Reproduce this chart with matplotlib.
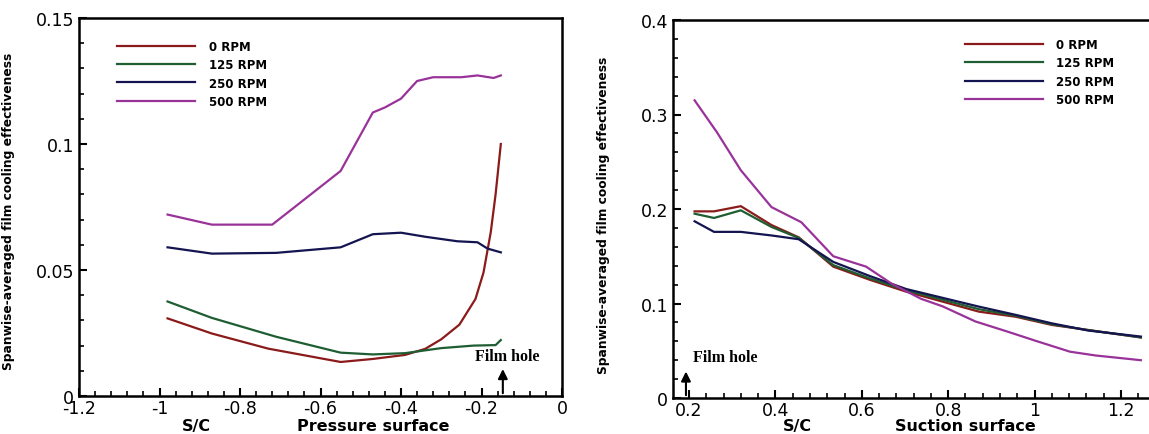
import numpy as np
import matplotlib
matplotlib.use('Agg')
import matplotlib.pyplot as plt
from matplotlib.ticker import MultipleLocator
import matplotlib.transforms as mtransforms

# pressure surface (left panel)
p_x_0 = [-0.98, -0.87, -0.73, -0.55, -0.47, -0.39, -0.34, -0.30, -0.255, -0.215, -0.195, -0.177, -0.165, -0.152]
p_y_0 = [0.0308, 0.0248, 0.0188, 0.0135, 0.0147, 0.0163, 0.0187, 0.0225, 0.0283, 0.0385, 0.0490, 0.0650, 0.0800, 0.1000]
p_x_125 = [-0.98, -0.87, -0.71, -0.55, -0.47, -0.39, -0.30, -0.22, -0.165, -0.152]
p_y_125 = [0.0375, 0.0310, 0.0235, 0.0172, 0.0165, 0.0170, 0.0190, 0.0200, 0.0202, 0.0222]
p_x_250 = [-0.98, -0.87, -0.71, -0.55, -0.47, -0.40, -0.34, -0.26, -0.21, -0.185, -0.152]
p_y_250 = [0.0590, 0.0565, 0.0568, 0.0590, 0.0642, 0.0648, 0.0632, 0.0614, 0.0610, 0.0585, 0.0570]
p_x_500 = [-0.98, -0.87, -0.72, -0.66, -0.55, -0.47, -0.44, -0.40, -0.36, -0.32, -0.25, -0.21, -0.17, -0.152]
p_y_500 = [0.0720, 0.0680, 0.0680, 0.0755, 0.0893, 0.1125, 0.1145, 0.1180, 0.1250, 0.1265, 0.1265, 0.1272, 0.1262, 0.1272]

# suction surface (right panel)
s_x = [0.213, 0.258, 0.32, 0.391, 0.454, 0.534, 0.619, 0.703, 0.787, 0.871, 0.956, 1.04, 1.124, 1.246]
s_y_0 = [0.1975, 0.1975, 0.203, 0.183, 0.170, 0.139, 0.125, 0.1125, 0.102, 0.0914, 0.086, 0.0773, 0.072, 0.064]
s_y_125 = [0.195, 0.1905, 0.1986, 0.181, 0.1694, 0.1406, 0.1265, 0.114, 0.104, 0.094, 0.087, 0.078, 0.0718, 0.0642]
s_y_250 = [0.187, 0.1758, 0.1758, 0.172, 0.168, 0.144, 0.129, 0.1153, 0.106, 0.0967, 0.088, 0.079, 0.0714, 0.065]
s_x_500 = [0.213, 0.265, 0.32, 0.391, 0.46, 0.534, 0.61, 0.669, 0.737, 0.787, 0.863, 0.939, 1.006, 1.082, 1.141, 1.246]
s_y_500 = [0.315, 0.281, 0.241, 0.202, 0.186, 0.150, 0.139, 0.121, 0.105, 0.097, 0.081, 0.070, 0.060, 0.049, 0.045, 0.040]

labels = ['0 RPM', '125 RPM', '250 RPM', '500 RPM']
colors = ['#8b1a1a', '#1e5e32', '#141450', '#993399']

plt.rcParams['font.family'] = 'DejaVu Sans'

W, H = 1149, 435
fig = plt.figure(figsize=(W / 100, H / 100), dpi=100)

def px_axes(l, r, top, bot):
    return fig.add_axes([l / W, (H - bot) / H, (r - l) / W, (bot - top) / H])

ax1 = px_axes(79, 562, 19, 397)
ax2 = px_axes(673, 1160, 21, 399)

ylab = 'Spanwise-averaged film cooling effectiveness'
leg_kw = dict(loc='upper left', frameon=False, borderpad=0, borderaxespad=0,
              handlelength=6.6, handletextpad=1.15, labelspacing=0.45,
              prop={'size': 8.5, 'weight': 'bold'})

def style(ax, xmaj, xmin, ymaj, ymin):
    ax.xaxis.set_major_locator(MultipleLocator(xmaj))
    ax.xaxis.set_minor_locator(MultipleLocator(xmin))
    ax.yaxis.set_major_locator(MultipleLocator(ymaj))
    ax.yaxis.set_minor_locator(MultipleLocator(ymin))
    ax.tick_params(which='both', direction='in', top=False, right=False, width=1.5, labelsize=12.5)
    ax.tick_params(which='major', length=6, pad=3.5)
    ax.tick_params(axis='x', which='major', pad=2.5)
    ax.tick_params(which='minor', length=3.5, width=1.2)
    for s in ax.spines.values():
        s.set_linewidth(1.8)
    ax.xaxis.set_major_formatter(plt.FuncFormatter(lambda v, p: f'{v:g}'))
    ax.yaxis.set_major_formatter(plt.FuncFormatter(lambda v, p: f'{v:g}'))

# left panel
for x, y, c, l in zip([p_x_0, p_x_125, p_x_250, p_x_500], [p_y_0, p_y_125, p_y_250, p_y_500], colors, labels):
    ax1.plot(x, y, color=c, lw=1.6, label=l)
ax1.set_xlim(-1.2, 0)
ax1.set_ylim(0, 0.15)
style(ax1, 0.2, 0.04, 0.05, 0.01)
ax1.set_ylabel(ylab, fontsize=8.8, fontweight='bold')
ax1.yaxis.set_label_coords(-0.1325, 0.492)
ax1.legend(bbox_to_anchor=(0.0787, 0.942), **leg_kw)
tr1 = mtransforms.blended_transform_factory(ax1.transData, ax1.transAxes)
ax1.text(-0.907, -0.078, 'S/C', transform=tr1, ha='center', va='center', fontsize=11.5, fontweight='bold')
ax1.text(-0.47, -0.078, 'Pressure surface', transform=tr1, ha='center', va='center', fontsize=11.5, fontweight='bold')
ax1.annotate('', xy=(-0.147, 0.0118), xytext=(-0.147, 0),
             arrowprops=dict(arrowstyle='-|>', color='black', lw=1.5, mutation_scale=14))
ax1.text(-0.137, 0.0158, 'Film hole', ha='center', va='center', fontsize=11.5,
         fontweight='bold', family='Liberation Serif')

# right panel
for x, y, c, l in zip([s_x, s_x, s_x, s_x_500], [s_y_0, s_y_125, s_y_250, s_y_500], colors, labels):
    ax2.plot(x, y, color=c, lw=1.6, label=l)
ax2.set_xlim(0.163, 0.163 + (1160 - 673) / 432)
ax2.set_ylim(0, 0.4)
style(ax2, 0.2, 0.04, 0.1, 0.02)
ax2.set_ylabel(ylab, fontsize=8.8, fontweight='bold')
ax2.yaxis.set_label_coords(-0.129, 0.487)
ax2.legend(bbox_to_anchor=(0.5996, 0.952), **leg_kw)
tr2 = mtransforms.blended_transform_factory(ax2.transData, ax2.transAxes)
ax2.text(0.45, -0.073, 'S/C', transform=tr2, ha='center', va='center', fontsize=11.5, fontweight='bold')
ax2.text(0.84, -0.073, 'Suction surface', transform=tr2, ha='center', va='center', fontsize=11.5, fontweight='bold')
ax2.annotate('', xy=(0.193, 0.031), xytext=(0.193, 0),
             arrowprops=dict(arrowstyle='-|>', color='black', lw=1.5, mutation_scale=14))
ax2.text(0.283, 0.0434, 'Film hole', ha='center', va='center', fontsize=11.5,
         fontweight='bold', family='Liberation Serif')

fig.savefig('out.png', dpi=100)
